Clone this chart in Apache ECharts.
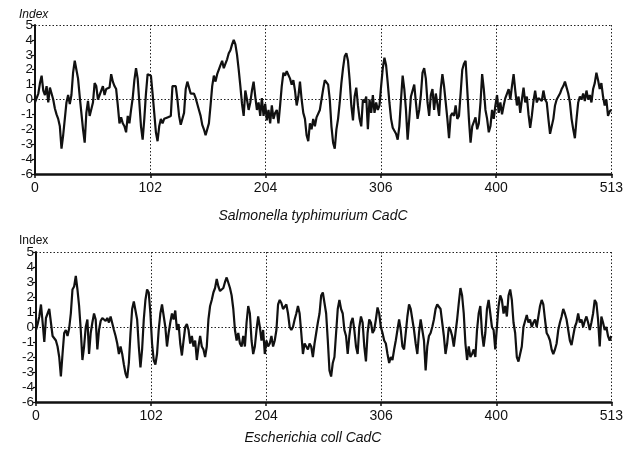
<!DOCTYPE html>
<html><head><meta charset="utf-8">
<script src="https://cdn.jsdelivr.net/npm/echarts@6/dist/echarts.min.js"></script>
<style>html,body{margin:0;padding:0;background:#fff}#c{width:626px;height:451px}</style>
</head><body><div id="c"></div>
<script>
// Salmonella typhimurium CadC hydropathy index (evenly spaced samples along the sequence)
const salmonellaIndex = [
-0.2,-0.1,0.4,1.1,1.6,0.6,0.3,0.9,-0.2,0.8,
0.7,0.0,-0.6,-1.0,-1.3,-1.8,-3.3,-2.4,-1.3,-0.2,
0.3,-0.3,0.3,1.8,2.6,2.0,1.4,0.2,-0.9,-2.0,
-2.9,-0.9,-0.1,-1.1,-1.0,-0.2,1.1,0.9,0.0,0.1,
0.6,0.9,0.3,0.7,0.6,0.8,1.7,1.2,0.9,0.7,
-0.4,-1.6,-1.2,-1.6,-1.8,-2.2,-1.1,-1.6,-0.7,0.1,
1.3,2.1,1.4,-0.2,-1.8,-2.7,-1.3,0.4,1.7,1.8,
1.6,0.4,-0.9,-2.2,-2.8,-1.8,-1.3,-1.6,-1.3,-1.4,
-1.2,-1.3,-1.1,0.9,1.0,
0.9,0.0,-1.1,-1.7,-1.8,-0.9,0.7,1.2,1.1,0.4,
0.3,0.4,0.1,0.0,-0.7,-1.1,-1.7,-2.0,-2.4,-2.3,
-1.6,-0.4,0.9,1.6,1.2,1.7,2.0,2.3,2.6,2.1,
2.4,2.7,3.1,3.3,3.7,4.0,3.7,3.0,2.0,0.9,
-0.3,-1.1,0.6,0.0,-0.7,-0.2,0.6,1.2,0.2,-0.7,
-0.2,-1.1,0.1,-1.1,-0.3,-1.4,-0.7,-1.6,-0.4,-1.3,
-0.9,-0.7,-1.6,-0.4,0.9,1.8,1.6,1.9,2.0,1.4,
1.0,1.3,0.6,-0.4,0.2,1.2,0.0,-0.9,-1.3,-2.4,
-2.8,-1.6,-2.0,-1.3,-1.8,-1.2,-1.1,
-0.7,0.0,0.7,1.3,1.4,1.0,0.0,-1.8,-2.9,-3.3,
-2.0,-1.3,-0.2,1.1,2.1,2.9,3.1,2.6,1.3,-0.4,
-1.4,0.2,0.8,-0.4,-1.3,-1.8,0.0,-0.2,0.2,-2.0,
0.0,-0.9,0.3,-0.9,-0.2,-0.7,-0.4,0.9,2.1,2.8,
2.3,1.1,-0.2,-1.3,-1.9,-2.0,-2.3,-2.7,-1.8,0.0,
1.6,0.7,-0.7,-2.7,-1.3,0.2,0.3,1.0,-0.2,-1.3,
-0.7,0.3,1.8,2.1,1.4,-0.2,-1.1,0.3,0.7,-0.7,
0.4,-0.3,-1.1,0.7,1.7,0.9,-0.2,-1.3,-2.6,-1.1,
-0.9,-1.1,-0.4,-1.3,-1.1,0.4,2.0,
2.4,2.6,0.7,-1.3,-2.9,-1.8,-1.8,-1.2,-2.0,-1.6,
-0.2,1.7,0.7,-0.7,-1.3,-2.2,-1.8,-0.7,-1.3,-0.4,
0.3,-0.9,-0.2,-1.0,-0.4,0.1,0.2,0.7,0.0,0.9,
1.7,0.6,-0.4,0.2,-0.9,0.0,0.8,-0.2,0.2,-1.0,
-1.9,-1.1,-0.1,0.6,-0.2,0.1,0.2,-0.1,0.6,0.0,
-0.2,-1.3,-2.3,-2.2,-1.3,-0.4,0.0,0.0,0.4,0.7,
0.9,1.2,1.1,0.4,-0.2,-1.3,-2.0,-2.6,-1.3,-0.2,
0.2,0.0,0.4,-0.1,0.6,0.0,0.3,-0.2,0.7,1.1,
1.8,1.3,0.7,1.1,0.2,-0.4,0.0,-1.1,-0.8,-0.7
];
// Escherichia coli CadC hydropathy index (evenly spaced samples along the sequence)
const ecoliIndex = [
-0.2,0.2,0.7,1.5,0.3,-1.0,0.6,0.9,1.2,0.3,
-0.6,-0.5,-0.9,-1.3,-2.0,-3.3,-1.8,-0.4,-0.2,-0.6,
-0.1,0.9,2.5,2.7,3.4,2.5,1.4,-0.2,-2.2,-1.3,
0.0,0.5,-1.8,-0.4,0.3,0.9,0.5,-1.5,-0.2,0.4,
0.6,0.7,0.4,0.6,0.3,0.7,0.6,-0.2,-0.6,-1.1,
-1.8,-1.3,-1.8,-2.5,-3.1,-3.4,-2.4,-0.4,1.2,1.7,
1.7,0.5,-1.3,-2.7,-1.5,0.5,1.8,2.5,2.3,0.9,
-1.1,-2.2,-2.5,-1.8,-0.2,0.9,1.5,1.6,0.0,-1.3,
-0.4,0.3,0.9,0.5,1.1,-0.2,0.2,
-1.1,-1.9,-0.9,0.0,0.2,-0.2,-1.1,-0.6,-1.3,-0.9,
-2.2,-1.3,-0.6,-1.3,-1.5,-2.0,-1.3,0.5,1.4,1.8,
2.3,2.6,3.2,2.7,2.4,2.3,2.6,3.0,3.3,3.2,
2.6,2.1,1.2,-0.2,-0.9,-0.4,-1.1,-1.3,-0.6,-1.3,
0.3,1.4,0.9,-0.9,-1.8,-1.3,-0.2,0.7,0.0,-0.9,
-0.2,-1.8,-0.9,-1.3,-1.1,-0.6,-1.3,-0.9,-0.2,1.5,
1.8,1.6,1.2,1.3,1.5,0.9,0.0,-0.2,0.0,0.5,
0.9,1.4,0.9,-0.4,-1.8,-1.1,-1.3,-1.5,-1.1,-1.3,
-2.0,-1.1,-0.4,0.3,0.9,2.1,2.3,
2.3,0.9,-0.9,-2.9,-3.3,-2.4,-2.0,-0.4,1.2,1.8,
1.2,0.9,-0.2,-0.6,-1.8,-0.6,0.3,0.6,-0.2,-1.3,
-1.8,0.0,0.7,0.3,-1.3,-2.3,-0.4,0.5,0.3,-0.4,
-0.2,0.5,1.3,0.9,0.0,-0.4,-0.9,-1.1,-1.8,-2.4,
-2.0,-2.2,-1.5,-0.9,-0.2,0.5,-0.2,-1.3,-1.5,-0.4,
0.7,1.5,1.2,0.5,-0.2,-1.1,-1.8,-0.4,0.5,-0.2,
-0.9,-2.9,-1.3,-0.6,-0.4,0.0,0.5,1.2,1.5,1.6,
1.2,0.3,-0.6,-1.8,-1.1,0.0,-0.2,-0.6,-1.3,-0.4,
0.5,1.6,2.6,2.1,0.9,-1.1,-2.2,
-1.3,-2.0,-1.8,-1.5,-2.0,-0.2,0.9,1.4,-0.4,-1.3,
-0.4,1.2,1.8,0.9,0.0,-0.2,-1.5,0.0,1.4,2.1,
1.8,0.9,1.4,0.7,2.1,2.5,1.8,0.3,-0.4,-2.0,
-2.3,-2.3,-1.3,0.0,0.0,0.8,0.3,0.5,0.0,0.3,
0.5,0.0,0.7,1.4,1.8,1.5,0.5,-0.4,-0.6,-0.9,
-1.5,-1.8,-1.5,-1.1,-0.2,0.3,0.7,1.2,0.9,0.5,
-0.2,-0.9,-1.2,-0.6,0.0,0.3,0.9,0.3,0.5,0.0,
0.4,0.7,0.3,-0.2,0.3,0.9,1.8,1.6,0.5,-1.3,
0.7,0.3,-0.2,0.0,-0.6,-0.9,-0.6
];
const xTickValues = [0, 102, 204, 306, 408, 510];
const xTickLabels = ['0', '102', '204', '306', '400', '513'];
const yTickLabels = ['-6', '-4', '-3', '-2', '-1', '0', '1', '2', '3', '4', '5']; // for -5..5
const panelTitles = ['Salmonella typhimurium CadC', 'Escherichia coll CadC'];
const yName = 'Index';

const FONT = '"Liberation Sans", Arial, sans-serif';
const xMax = xTickValues[xTickValues.length - 1];
function toPoints(vals) {
  return vals.map((v, i) => [i * xMax / (vals.length - 1), v]);
}
const dotted = { type: [1.5, 2], color: '#222', width: 1 };

function xAxisFor(gi) {
  return {
    type: 'value', gridIndex: gi, min: 0, max: xMax, interval: 102,
    axisLine: { show: true, onZero: false, lineStyle: { color: '#111', width: 2.5 } },
    axisTick: { show: true, inside: false, length: 4, lineStyle: { color: '#111', width: 1.5 } },
    axisLabel: { color: '#111', fontFamily: FONT, fontSize: 14, margin: 7,
      formatter: v => { const k = xTickValues.indexOf(v); return k >= 0 ? xTickLabels[k] : ''; } },
    splitLine: { show: true, lineStyle: dotted }
  };
}
function yAxisFor(gi) {
  return {
    type: 'value', gridIndex: gi, min: -5, max: 5, interval: 1,
    axisLine: { show: true, onZero: false, lineStyle: { color: '#111', width: 2 } },
    axisTick: { show: true, length: 3, lineStyle: { color: '#111', width: 1.2 } },
    axisLabel: { color: '#111', fontFamily: FONT, fontSize: 13.5, margin: 2,
      formatter: v => yTickLabels[Math.round(v) + 5] },
    splitLine: { show: false }
  };
}
function yGuideFor(gi) {
  return {
    type: 'value', gridIndex: gi, min: -5, max: 5, interval: 5, position: 'left',
    axisLine: { show: false }, axisTick: { show: false }, axisLabel: { show: false },
    splitLine: { show: true, lineStyle: dotted }
  };
}
function seriesFor(vals, gi) {
  return {
    type: 'line', xAxisIndex: gi, yAxisIndex: gi * 2, data: toPoints(vals),
    showSymbol: false, symbol: 'none', smooth: false, animation: false,
    lineStyle: { color: '#111', width: 2.2 }, z: 5
  };
}

const chart = echarts.init(document.getElementById('c'), null, { renderer: 'canvas' });
chart.setOption({
  animation: false,
  backgroundColor: '#fff',
  grid: [
    { left: 35, right: 10, top: 25, height: 149 },
    { left: 36, right: 12, top: 252, height: 150 }
  ],
  xAxis: [xAxisFor(0), xAxisFor(1)],
  yAxis: [yAxisFor(0), yGuideFor(0), yAxisFor(1), yGuideFor(1)],
  title: [
    { text: yName, left: 14, top: 4, textStyle: { fontFamily: FONT, fontSize: 12, fontWeight: 'normal', fontStyle: 'italic', color: '#111' } },
    { text: panelTitles[0], left: 'center', top: 204, textStyle: { fontFamily: FONT, fontSize: 14, fontWeight: 'normal', fontStyle: 'italic', color: '#111' } },
    { text: yName, left: 14, top: 230, textStyle: { fontFamily: FONT, fontSize: 12, fontWeight: 'normal', color: '#111' } },
    { text: panelTitles[1], left: 'center', top: 426, textStyle: { fontFamily: FONT, fontSize: 14, fontWeight: 'normal', fontStyle: 'italic', color: '#111' } }
  ],
  series: [seriesFor(salmonellaIndex, 0), seriesFor(ecoliIndex, 1)]
});
</script></body></html>
